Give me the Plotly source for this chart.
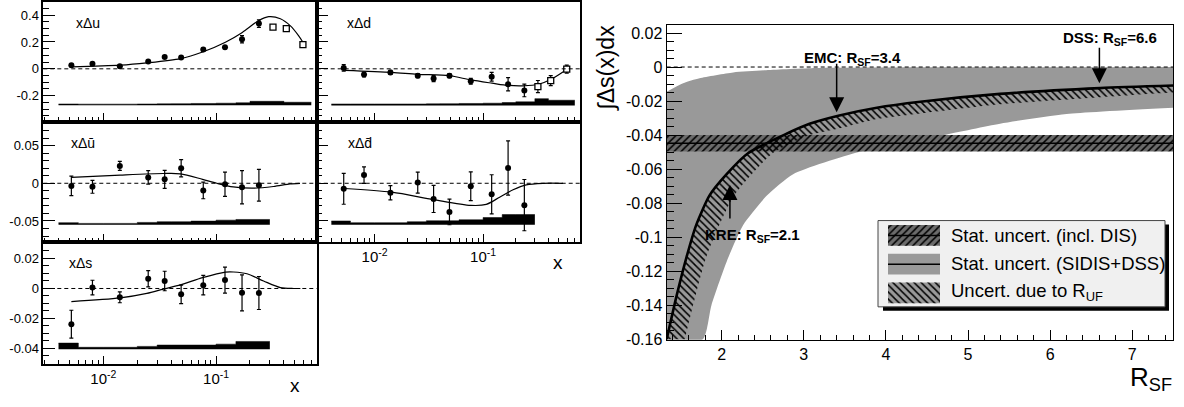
import numpy as np
import plotly.graph_objects as go

W, H = 1184, 407
FONT = "Liberation Sans, Arial, Helvetica, sans-serif"

# ====================== DATA: left panels ======================
x_bins = [0.0052, 0.0080, 0.014, 0.025, 0.035, 0.049, 0.077, 0.12, 0.17, 0.24]
x_open = [0.32, 0.42, 0.59]

# x Delta u
du_val = [0.027, 0.037, 0.020, 0.054, 0.088, 0.085, 0.144, 0.161, 0.220, 0.337]
du_err = [0.008, 0.008, 0.008, 0.008, 0.009, 0.009, 0.010, 0.010, 0.027, 0.028]
du_open_val = [0.31, 0.30, 0.18]
du_open_err = [0.008, 0.008, 0.007]
du_curve_x = [0.0052, 0.0141, 0.0243, 0.0483, 0.0759, 0.121, 0.171, 0.236, 0.293, 0.372, 0.457, 0.541, 0.59]
du_curve_y = [0.015, 0.027, 0.044, 0.076, 0.125, 0.198, 0.271, 0.356, 0.388, 0.373, 0.32, 0.246, 0.198]

# x Delta d
dd_val = [0.007, -0.042, -0.027, -0.051, -0.073, -0.051, -0.093, -0.059, -0.115, -0.161]
dd_err = [0.024, 0.018, 0.015, 0.015, 0.022, 0.015, 0.022, 0.032, 0.049, 0.047]
dd_open_val = [-0.132, -0.088, -0.002]
dd_open_err = [0.045, 0.037, 0.030]
dd_curve_x = [0.0053, 0.0144, 0.0248, 0.0489, 0.0769, 0.121, 0.171, 0.234, 0.325, 0.424, 0.589]
dd_curve_y = [-0.012, -0.027, -0.041, -0.051, -0.083, -0.107, -0.124, -0.127, -0.115, -0.078, -0.005]

# x Delta ubar
dub_val = [-0.0035, -0.0047, 0.023, 0.0078, 0.0052, 0.020, -0.0095, -0.0013, -0.0052, -0.0026]
dub_err = [0.013, 0.0085, 0.006, 0.009, 0.012, 0.0115, 0.011, 0.016, 0.022, 0.021]
dub_curve_x = [0.0052, 0.0141, 0.0341, 0.0483, 0.0759, 0.1015, 0.142, 0.214, 0.323, 0.453, 0.556]
dub_curve_y = [0.0078, 0.0109, 0.013, 0.0126, 0.0052, 0.0, -0.0048, -0.0065, -0.0043, -0.0009, 0.0]

# x Delta dbar
ddb_val = [-0.0073, 0.0109, -0.0125, 0.0009, -0.0208, -0.038, -0.0039, -0.0147, 0.0204, -0.029]
ddb_err = [0.0205, 0.011, 0.0095, 0.014, 0.018, 0.017, 0.019, 0.026, 0.036, 0.034]
ddb_curve_x = [0.0053, 0.0144, 0.0348, 0.0769, 0.107, 0.142, 0.189, 0.25, 0.357, 0.546]
ddb_curve_y = [-0.0069, -0.0118, -0.0216, -0.0293, -0.028, -0.0185, -0.0086, -0.0021, 0.0, 0.0]

# x Delta s
ds_val = [-0.0238, 0.0006, -0.0059, 0.0065, 0.005, -0.0039, 0.0022, 0.0056, -0.0029, -0.003]
ds_err = [0.0093, 0.0049, 0.0036, 0.0054, 0.0065, 0.0062, 0.0065, 0.0087, 0.012, 0.011]
ds_curve_x = [0.0052, 0.0141, 0.0243, 0.0341, 0.0483, 0.0759, 0.121, 0.143, 0.188, 0.264, 0.372, 0.489, 0.56]
ds_curve_y = [-0.0087, -0.0063, -0.0033, -0.0004, 0.0024, 0.0072, 0.0109, 0.011, 0.0098, 0.005, 0.0006, 0.0, 0.0]

# systematic bands (bin edges and top of each bin, constant base)
sys_edges_short = [0.004, 0.006, 0.01, 0.02, 0.03, 0.04, 0.06, 0.1, 0.15, 0.2, 0.3]
sys_edges_long = [0.004, 0.006, 0.01, 0.02, 0.03, 0.04, 0.06, 0.1, 0.15, 0.2, 0.3, 0.4, 0.5, 0.7]
du_sys_base = -0.272
du_sys_top = [-0.262, -0.263, -0.263, -0.262, -0.261, -0.260, -0.258, -0.256, -0.253, -0.242, -0.242, -0.249, -0.249]
dd_sys_base = -0.273
dd_sys_top = [-0.262, -0.262, -0.262, -0.262, -0.261, -0.260, -0.258, -0.256, -0.251, -0.246, -0.222, -0.234, -0.234]
dub_sys_base = -0.0549
dub_sys_top = [-0.0523, -0.0532, -0.0532, -0.0519, -0.051, -0.051, -0.0502, -0.0489, -0.048, -0.048]
ddb_sys_base = -0.055
ddb_sys_top = [-0.050, -0.0523, -0.0523, -0.051, -0.0497, -0.0497, -0.0484, -0.0454, -0.0415, -0.0415]
ds_sys_base = -0.0405
ds_sys_top = [-0.0364, -0.0392, -0.0392, -0.0386, -0.0377, -0.0377, -0.0377, -0.0371, -0.0353, -0.0353]

# tick labels (left panels)
left_x_tickvals = [0.01, 0.1]
left_x_ticktext = ["10<sup>-2</sup>", "10<sup>-1</sup>"]
q_ytickvals = [-0.2, 0, 0.2, 0.4]
q_yticktext = ["-0.2", "0", "0.2", "0.4"]
qbar_ytickvals = [-0.05, 0, 0.05]
qbar_yticktext = ["-0.05", "0", "0.05"]
s_ytickvals = [-0.04, -0.02, 0, 0.02]
s_yticktext = ["-0.04", "-0.02", "0", "0.02"]

# ====================== DATA: right panel ======================
R_line = [1.33, 1.448, 1.57, 1.69, 1.85, 2.06, 2.32, 2.79, 3.07, 3.42, 3.89, 4.42, 5.39, 6.61, 7.5]
line_val = [-0.16, -0.135, -0.112, -0.0928, -0.0756, -0.063, -0.0507, -0.0392, -0.0334, -0.0286,
            -0.0239, -0.0204, -0.0158, -0.0124, -0.0109]
R_hatch_low = [1.55, 1.81, 2.15, 2.62, 3.07, 3.42, 3.89, 4.42, 5.39, 6.61, 7.5]
hatch_low_val = [-0.16, -0.112, -0.0756, -0.0507, -0.040, -0.0363, -0.0306, -0.0273, -0.0219, -0.0177, -0.015]
R_gray_up = [1.33, 1.53, 1.73, 2.14, 2.54, 3.15, 4.0, 5.0, 6.0, 7.5]
gray_up_val = [-0.0145, -0.0095, -0.0066, -0.0032, -0.0019, -0.0006, -0.0003, -0.0002, -0.0001, 0.0]
R_gray_low = [1.77, 1.875, 2.08, 2.26, 2.55, 2.87, 3.67, 4.7, 5.39, 6.2, 7.5]
gray_low_val = [-0.16, -0.14, -0.112, -0.093, -0.0756, -0.063, -0.050, -0.040, -0.0333, -0.0276, -0.0239]
dis_val = -0.0448
dis_err = 0.0048

model_names = ["EMC", "DSS", "KRE"]
model_rsf = [3.4, 6.6, 2.1]

R_tickvals = [2, 3, 4, 5, 6, 7]
R_ticktext = ["2", "3", "4", "5", "6", "7"]
int_tickvals = [0.02, 0, -0.02, -0.04, -0.06, -0.08, -0.1, -0.12, -0.14, -0.16]
int_ticktext = ["0.02", "0", "-0.02", "-0.04", "-0.06", "-0.08", "-0.1", "-0.12", "-0.14", "-0.16"]

legend_labels = ["Stat. uncert. (incl. DIS)", "Stat. uncert. (SIDIS+DSS)", "Uncert. due to R<sub>UF</sub>"]

# ====================== layout geometry ======================
X_LOG_RANGE = [-2.533, -0.107]
R_RANGE = [1.33, 7.5]
INT_RANGE = [-0.1603, 0.025]
Q_RANGE = [-0.395, 0.50]
QBAR_RANGE = [-0.0785, 0.0815]
S_RANGE = [-0.0506, 0.0307]

def dx(a, b):
    return [a / W, b / W]

def dy(top, bottom):
    return [1 - bottom / H, 1 - top / H]

GRAY = "#999999"
DARK = "#6b6b6b"
HATCH = dict(fgcolor="#000000", fgopacity=1, fillmode="replace", size=5, solidity=0.3)

fig = go.Figure()

def ax_id(n):
    return ("x" if n == 1 else f"x{n}"), ("y" if n == 1 else f"y{n}")

def add_left_panel(n, edges, sys_top, sys_base, cx, cy, yv, ye, oy=None, oe=None):
    xa, ya = ax_id(n)
    fig.add_trace(go.Scatter(x=edges, y=[sys_base] * len(edges), mode="lines",
                             line=dict(width=0, shape="hv", color="black"),
                             xaxis=xa, yaxis=ya, showlegend=False, hoverinfo="skip"))
    fig.add_trace(go.Scatter(x=edges, y=list(sys_top) + [sys_top[-1]], mode="lines",
                             line=dict(width=0.5, shape="hv", color="black"),
                             fill="tonexty", fillcolor="black",
                             xaxis=xa, yaxis=ya, showlegend=False, hoverinfo="skip"))
    fig.add_trace(go.Scatter(x=cx, y=cy, mode="lines",
                             line=dict(color="black", width=1.2, shape="spline", smoothing=0.8),
                             xaxis=xa, yaxis=ya, showlegend=False, hoverinfo="skip"))
    fig.add_trace(go.Scatter(x=x_bins, y=yv, mode="markers",
                             marker=dict(symbol="circle", size=6, color="black"),
                             error_y=dict(type="data", array=ye, color="black", thickness=1.2, width=2),
                             xaxis=xa, yaxis=ya, showlegend=False, hoverinfo="skip"))
    if oy is not None:
        fig.add_trace(go.Scatter(x=x_open, y=oy, mode="markers",
                                 marker=dict(symbol="square", size=6, color="white",
                                             line=dict(width=1.3, color="black")),
                                 error_y=dict(type="data", array=oe, color="black", thickness=1.2, width=2),
                                 xaxis=xa, yaxis=ya, showlegend=False, hoverinfo="skip"))

add_left_panel(1, sys_edges_long, du_sys_top, du_sys_base, du_curve_x, du_curve_y, du_val, du_err, du_open_val, du_open_err)
add_left_panel(2, sys_edges_long, dd_sys_top, dd_sys_base, dd_curve_x, dd_curve_y, dd_val, dd_err, dd_open_val, dd_open_err)
add_left_panel(3, sys_edges_short, dub_sys_top, dub_sys_base, dub_curve_x, dub_curve_y, dub_val, dub_err)
add_left_panel(4, sys_edges_short, ddb_sys_top, ddb_sys_base, ddb_curve_x, ddb_curve_y, ddb_val, ddb_err)
add_left_panel(5, sys_edges_short, ds_sys_top, ds_sys_base, ds_curve_x, ds_curve_y, ds_val, ds_err)

# ---------------- right panel ----------------
# gray band (SIDIS+DSS)
fig.add_trace(go.Scatter(x=[R_RANGE[0]] + R_gray_low, y=[INT_RANGE[0]] + gray_low_val, mode="lines",
                         line=dict(width=0, shape="spline", smoothing=0.6, color=GRAY),
                         xaxis="x6", yaxis="y6", showlegend=False, hoverinfo="skip"))
fig.add_trace(go.Scatter(x=R_gray_up, y=gray_up_val, mode="lines",
                         line=dict(width=0, shape="spline", smoothing=0.6, color=GRAY),
                         fill="tonexty", fillcolor=GRAY,
                         xaxis="x6", yaxis="y6", showlegend=False, hoverinfo="skip"))
# horizontal band (incl. DIS)
fig.add_trace(go.Scatter(x=[R_RANGE[0], R_RANGE[1], R_RANGE[1], R_RANGE[0], R_RANGE[0]],
                         y=[dis_val - dis_err, dis_val - dis_err, dis_val + dis_err, dis_val + dis_err, dis_val - dis_err],
                         mode="lines", line=dict(width=0, color=DARK), fill="toself", fillcolor=DARK,
                         fillpattern=dict(shape="/", bgcolor=DARK, **HATCH),
                         xaxis="x6", yaxis="y6", showlegend=False, hoverinfo="skip"))
fig.add_trace(go.Scatter(x=R_RANGE, y=[dis_val, dis_val], mode="lines",
                         line=dict(width=1.5, color="black"),
                         xaxis="x6", yaxis="y6", showlegend=False, hoverinfo="skip"))
# hatched band due to R_UF, upper edge = central curve
fig.add_trace(go.Scatter(x=R_hatch_low, y=hatch_low_val, mode="lines",
                         line=dict(width=0, shape="spline", smoothing=0.6, color="black"),
                         xaxis="x6", yaxis="y6", showlegend=False, hoverinfo="skip"))
fig.add_trace(go.Scatter(x=R_line, y=line_val, mode="lines",
                         line=dict(width=2.6, shape="spline", smoothing=0.6, color="black"),
                         fill="tonexty", fillcolor="rgba(0,0,0,0)",
                         fillpattern=dict(shape="\\", bgcolor="rgba(0,0,0,0)", **HATCH),
                         xaxis="x6", yaxis="y6", showlegend=False, hoverinfo="skip"))

# ---------------- legend swatches (aux axes 7) ----------------
sw_styles = [
    dict(bg=DARK, pattern="/", midline=True),
    dict(bg=GRAY, pattern="", midline=True),
    dict(bg=GRAY, pattern="\\", midline=False),
]
for i, st in enumerate(sw_styles):
    base = 2 - i
    b, t = base + 0.14, base + 0.86
    fig.add_trace(go.Scatter(x=[0, 1, 1, 0, 0], y=[b, b, t, t, b], mode="lines",
                             line=dict(width=0, color=st["bg"]), fill="toself", fillcolor=st["bg"],
                             xaxis="x7", yaxis="y7", showlegend=False, hoverinfo="skip"))
    if st["pattern"]:
        fig.add_trace(go.Scatter(x=[0, 1, 1, 0, 0], y=[b, b, t, t, b], mode="lines",
                                 line=dict(width=0, color=st["bg"]), fill="toself",
                                 fillcolor="rgba(0,0,0,0)",
                                 fillpattern=dict(shape=st["pattern"], bgcolor="rgba(0,0,0,0)", **HATCH),
                                 xaxis="x7", yaxis="y7", showlegend=False, hoverinfo="skip"))
    if st["midline"]:
        fig.add_trace(go.Scatter(x=[0, 1], y=[base + 0.5, base + 0.5], mode="lines",
                                 line=dict(width=1.5, color="black"),
                                 xaxis="x7", yaxis="y7", showlegend=False, hoverinfo="skip"))

# ====================== axes ======================
tickfont_l = dict(family=FONT, size=13, color="black")
common = dict(showline=True, linecolor="black", linewidth=1.5, mirror=True, ticks="inside",
              tickcolor="black", tickwidth=1, showgrid=False, zeroline=False)
minor_x = [v * 10.0 ** e for e in (-3, -2, -1) for v in range(2, 10) if 0.0029 < v * 10.0 ** e < 0.78]

panels = {
    1: dict(dx=dx(43.3, 316.7), dy=dy(1.7, 124.3), yr=Q_RANGE, yt=(q_ytickvals, q_yticktext), ymin=0.05, xlab=False, ylab=True),
    2: dict(dx=dx(316.7, 580), dy=dy(1.7, 124.3), yr=Q_RANGE, yt=(q_ytickvals, q_yticktext), ymin=0.05, xlab=False, ylab=False),
    3: dict(dx=dx(43.3, 316.7), dy=dy(124.3, 247.3), yr=QBAR_RANGE, yt=(qbar_ytickvals, qbar_yticktext), ymin=0.01, xlab=False, ylab=True),
    4: dict(dx=dx(316.7, 580), dy=dy(124.3, 247.3), yr=QBAR_RANGE, yt=(qbar_ytickvals, qbar_yticktext), ymin=0.01, xlab=True, ylab=False),
    5: dict(dx=dx(43.3, 316.7), dy=dy(247.3, 371.7), yr=S_RANGE, yt=(s_ytickvals, s_yticktext), ymin=0.005, xlab=True, ylab=True),
}
layout_axes = {}
for n, p in panels.items():
    xk = "xaxis" if n == 1 else f"xaxis{n}"
    yk = "yaxis" if n == 1 else f"yaxis{n}"
    ya_name = "y" if n == 1 else f"y{n}"
    xa_name = "x" if n == 1 else f"x{n}"
    ymin_vals = list(np.round(np.arange(np.ceil(p["yr"][0] / p["ymin"]), np.floor(p["yr"][1] / p["ymin"]) + 1) * p["ymin"], 5))
    layout_axes[xk] = dict(common, domain=p["dx"], anchor=ya_name, type="log", range=X_LOG_RANGE,
                           tickmode="array", tickvals=left_x_tickvals, ticktext=left_x_ticktext,
                           ticklen=9, showticklabels=p["xlab"], tickfont=dict(family=FONT, size=15, color="black"),
                           minor=dict(tickmode="array", tickvals=minor_x, ticks="inside", ticklen=5,
                                      tickcolor="black", tickwidth=1))
    layout_axes[yk] = dict(common, domain=p["dy"], anchor=xa_name, range=p["yr"],
                           tickmode="array", tickvals=p["yt"][0], ticktext=p["yt"][1],
                           ticklen=12, showticklabels=p["ylab"], tickfont=tickfont_l,
                           minor=dict(tickmode="array", tickvals=ymin_vals, ticks="inside", ticklen=6,
                                      tickcolor="black", tickwidth=1))

R_minor = list(np.round(np.arange(1.4, 7.5, 0.2), 3))
INT_minor = list(np.round(np.arange(-0.16, 0.025, 0.005), 4))
layout_axes["xaxis6"] = dict(showline=True, linecolor="black", linewidth=1.3, mirror=True, ticks="inside",
                             tickcolor="black", tickwidth=1.3, showgrid=False, zeroline=False,
                             domain=dx(666.7, 1173.3), anchor="y6", range=R_RANGE,
                             tickmode="array", tickvals=R_tickvals, ticktext=R_ticktext, ticklen=10,
                             tickfont=dict(family=FONT, size=16, color="black"),
                             minor=dict(tickmode="array", tickvals=R_minor, ticks="inside", ticklen=5,
                                        tickcolor="black", tickwidth=1.2))
layout_axes["yaxis6"] = dict(showline=True, linecolor="black", linewidth=1.3, mirror=True, ticks="inside",
                             tickcolor="black", tickwidth=1.3, showgrid=False, zeroline=False,
                             domain=dy(25, 346.5), anchor="x6", range=INT_RANGE,
                             tickmode="array", tickvals=int_tickvals, ticktext=int_ticktext, ticklen=15,
                             tickfont=dict(family=FONT, size=16, color="black"),
                             minor=dict(tickmode="array", tickvals=INT_minor, ticks="inside", ticklen=7,
                                        tickcolor="black", tickwidth=1.2))
layout_axes["xaxis7"] = dict(domain=dx(888, 940), range=[0, 1], visible=False, anchor="y7")
layout_axes["yaxis7"] = dict(domain=dy(225.5, 313.5), range=[0, 3], visible=False, anchor="x7")

# ====================== shapes ======================
shapes = []
for n in range(1, 6):
    xa, ya = ax_id(n)
    shapes.append(dict(type="line", xref=f"{xa} domain", yref=ya, x0=0, x1=1, y0=0, y1=0,
                       line=dict(color="black", width=1, dash="4px,3px")))
shapes.append(dict(type="line", xref="x6 domain", yref="y6", x0=0, x1=1, y0=0, y1=0,
                   line=dict(color="black", width=1, dash="4px,3px")))
# legend box with shadow
shapes.append(dict(type="rect", xref="paper", yref="paper", layer="below",
                   x0=883 / W, x1=1169 / W, y0=1 - 317 / H, y1=1 - 229 / H,
                   fillcolor="black", line=dict(width=0)))
shapes.append(dict(type="rect", xref="paper", yref="paper", layer="below",
                   x0=878 / W, x1=1165 / W, y0=1 - 313 / H, y1=1 - 225 / H,
                   fillcolor="#f0f0f0", line=dict(width=1, color="#444444")))

# ====================== annotations ======================
def P(px, py):
    return px / W, 1 - py / H

ann = []
def text(px, py, s, size, xanchor="left", yanchor="middle", bold=False, angle=0):
    x, y = P(px, py)
    ann.append(dict(x=x, y=y, xref="paper", yref="paper", text=(f"<b>{s}</b>" if bold else s),
                    showarrow=False, xanchor=xanchor, yanchor=yanchor, textangle=angle,
                    font=dict(family=FONT, size=size, color="black")))

text(74, 23, "xΔu", 14)
text(345, 23, "xΔd", 14)
text(69, 146, "xΔū", 14)
text(346, 146, "xΔd\u0304", 14)
text(67, 268, "xΔs", 14)
text(558, 268, "x", 19, xanchor="center")
text(295, 393, "x", 19, xanchor="center")

text(606, 70, "∫Δs(x)dx", 23, xanchor="center", angle=-90)
text(1174, 386, "R<sub>SF</sub>", 26, xanchor="right")

label_pos = {"EMC": (852, 60), "DSS": (1110, 39), "KRE": (752, 240)}
for nm, r in zip(model_names, model_rsf):
    px, py = label_pos[nm]
    text(px, py, f"{nm}: R<sub>SF</sub>={r}", 15, xanchor="center", bold=True)

arrow_cfg = {"EMC": (-50, 4), "DSS": (-37, 5), "KRE": (35, -14)}
for nm, r in zip(model_names, model_rsf):
    ay, ysh = arrow_cfg[nm]
    ann.append(dict(x=r, y=float(np.interp(r, R_line, line_val)), xref="x6", yref="y6",
                    ax=0, ay=ay, showarrow=True, arrowhead=2, arrowsize=2, arrowwidth=1.5,
                    arrowcolor="black", text="", yshift=ysh))

for i, lab in enumerate(legend_labels):
    text(949, 240 + 29 * i, lab, 18.5)

fig.update_layout(
    width=W, height=H, margin=dict(l=0, r=0, t=0, b=0),
    paper_bgcolor="white", plot_bgcolor="rgba(0,0,0,0)",
    showlegend=False, shapes=shapes, annotations=ann,
    font=dict(family=FONT, color="black"),
    **layout_axes,
)

fig.write_html("out.html")
